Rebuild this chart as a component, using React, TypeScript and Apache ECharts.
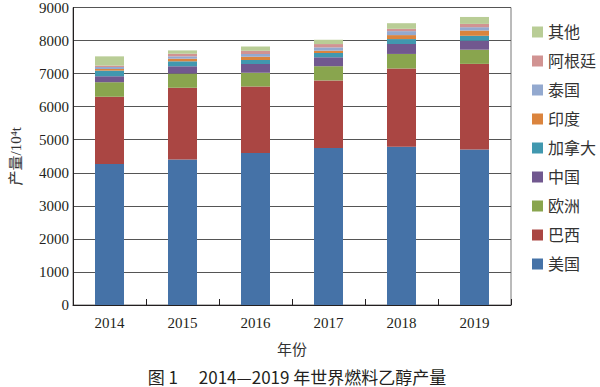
import React, { useEffect, useRef } from "react";
import * as echarts from "echarts";

const years = ["2014", "2015", "2016", "2017", "2018", "2019"];
const seriesNames = ["美国", "巴西", "欧洲", "中国", "加拿大", "印度", "泰国", "阿根廷", "其他"];
const usa = [4265, 4404, 4596, 4747, 4786, 4705];
const brazil = [2035, 2168, 2017, 2047, 2369, 2589];
const europe = [440, 430, 410, 430, 440, 430];
const china = [180, 220, 270, 270, 300, 270];
const canada = [170, 150, 120, 130, 150, 150];
const india = [50, 80, 100, 70, 120, 160];
const thailand = [60, 70, 80, 100, 120, 100];
const argentina = [42, 80, 100, 100, 70, 100];
const others = [280, 100, 130, 130, 170, 210];
const seriesValues = [usa, brazil, europe, china, canada, india, thailand, argentina, others];
const colors = ["#4572A7", "#AA4643", "#89A54E", "#71588F", "#4198AF", "#DB843D", "#93A9CF", "#D19392", "#B9CD96"];
const yTicks = [0, 1000, 2000, 3000, 4000, 5000, 6000, 7000, 8000, 9000];
const caption = "图 1　 2014—2019 年世界燃料乙醇产量";

const serif = "'Liberation Serif', 'Times New Roman', 'Noto Sans CJK SC', serif";

export default function App() {
  const ref = useRef<HTMLDivElement>(null);
  useEffect(() => {
    if (!ref.current) return;
    const chart = echarts.init(ref.current, undefined, { renderer: "svg" });
    chart.setOption({
      animation: false,
      backgroundColor: "#ffffff",
      grid: {
        left: 73,
        right: 89,
        top: 6,
        bottom: 82,
        show: true,
        borderColor: "#777777",
        borderWidth: 1,
      },
      legend: {
        orient: "vertical",
        left: 527,
        top: 19,
        itemWidth: 11,
        itemHeight: 11,
        itemGap: 13,
        icon: "rect",
        data: [...seriesNames].reverse(),
        textStyle: { fontFamily: serif, fontSize: 16, color: "#333333", lineHeight: 16 },
      },
      xAxis: {
        type: "category",
        data: years,
        name: "年份",
        nameLocation: "middle",
        nameGap: 37,
        nameTextStyle: { fontFamily: serif, fontSize: 15, color: "#333333" },
        axisLine: { lineStyle: { color: "#231f20", width: 1 } },
        axisTick: { show: true, inside: true, length: 6, lineStyle: { color: "#231f20" } },
        axisLabel: { fontFamily: serif, fontSize: 15, color: "#231f20", margin: 10 },
      },
      yAxis: {
        type: "value",
        min: yTicks[0],
        max: yTicks[yTicks.length - 1],
        interval: 1000,
        name: "产量/10⁴t",
        nameLocation: "middle",
        nameGap: 50,
        nameRotate: 90,
        nameTextStyle: { fontFamily: serif, fontSize: 15, color: "#333333" },
        axisLine: { show: true, lineStyle: { color: "#231f20", width: 1 } },
        axisTick: { show: false },
        axisLabel: {
          fontFamily: serif,
          fontSize: 15,
          color: "#231f20",
          margin: 4,
          formatter: (v: number) => String(v),
        },
        splitLine: { show: true, lineStyle: { color: "#555555", width: 1 } },
      },
      series: seriesNames.map((name, i) => ({
        name,
        type: "bar",
        stack: "total",
        barWidth: 29,
        data: seriesValues[i],
        itemStyle: { color: colors[i] },
      })),
      graphic: [
        {
          type: "text",
          x: 297,
          y: 376,
          style: {
            text: caption,
            fontFamily: "'Noto Sans CJK SC', sans-serif",
            fontSize: 17,
            fill: "#231f20",
            textAlign: "center",
            textVerticalAlign: "middle",
          },
        },
      ],
    });
    return () => chart.dispose();
  }, []);
  return (
    <div
      ref={ref}
      style={{ position: "fixed", left: 0, top: 0, width: 600, height: 387, background: "#fff" }}
    />
  );
}
